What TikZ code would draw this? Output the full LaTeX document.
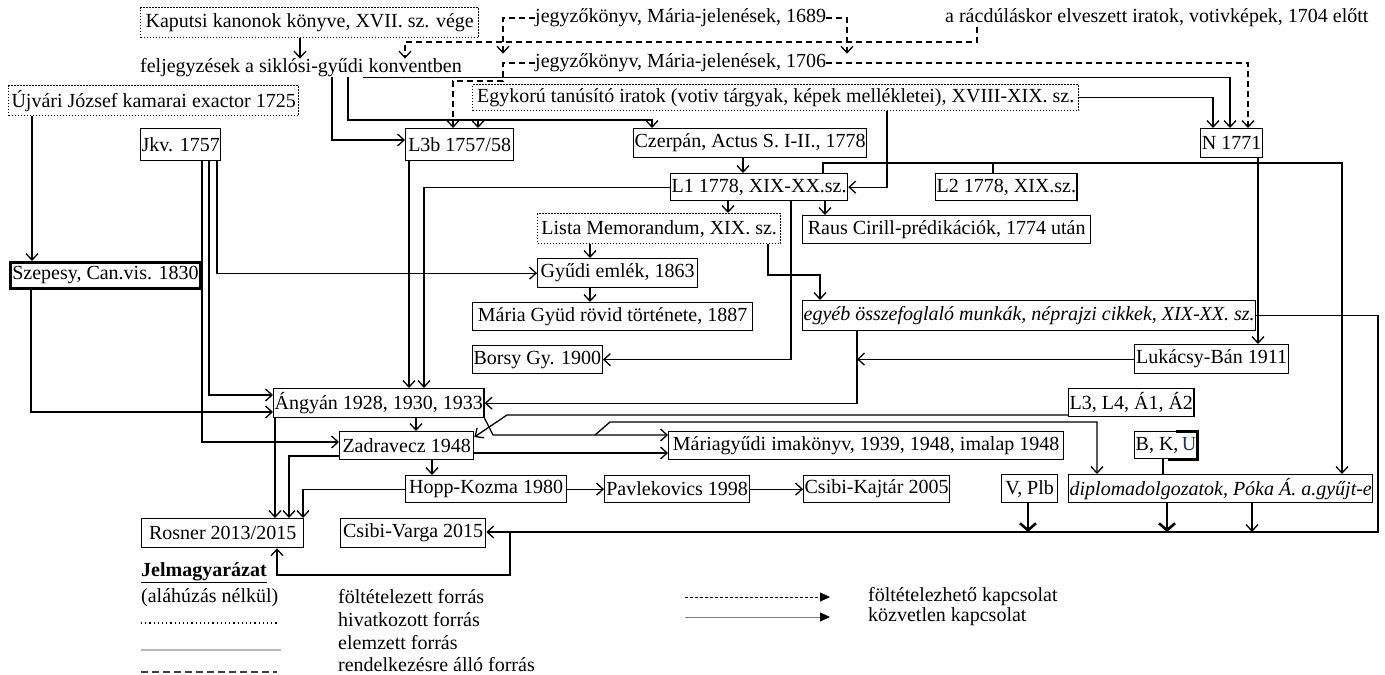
\documentclass[tikz,border=0pt]{standalone}
\usepackage{fontspec}
\setmainfont{Liberation Serif}
\usetikzlibrary{arrows.meta}
\definecolor{ublue}{HTML}{1F3A5F}
\begin{document}
\begin{tikzpicture}[x=1pt,y=-1pt,
  font=\fontsize{20}{24}\selectfont,
  bx/.style={draw, line width=1.3pt, inner xsep=1pt, inner ysep=0pt, anchor=north west},
  dbx/.style={bx, dash pattern=on 1.4pt off 1.6pt, line width=1.4pt},
  txt/.style={inner sep=0pt, anchor=west},
  itx/.style={font=\fontsize{20}{24}\selectfont\itshape},
  ln/.style={line width=1.3pt},
  arr/.style={ln, -{Straight Barb[length=6.5pt,width=12pt]}},
  darr/.style={arr, dash pattern=on 6pt off 4pt},
  tarr/.style={line width=2.6pt, -{Straight Barb[length=7pt,width=16pt]}},
]
\useasboundingbox (0,0) rectangle (1385,675);

% ---------- nodes ----------
\node[dbx, minimum width=338pt, minimum height=30pt] (kap) at (140,7) {Kaputsi kanonok könyve, XVII. sz. vége};
\node[txt] (felj) at (140,68) {feljegyzések a siklósi-gyűdi konventben};
\node[txt] (j1689) at (535,18) {jegyzőkönyv, Mária-jelenések, 1689};
\node[txt] (j1706) at (535,63) {jegyzőkönyv, Mária-jelenések, 1706};
\node[txt] (racd) at (945,18) {a rácdúláskor elveszett iratok, votivképek, 1704 előtt};
\node[dbx, minimum width=290pt, minimum height=30pt] (ujv) at (8,85) {Újvári József kamarai exactor 1725};
\node[dbx, minimum width=606pt, minimum height=26pt] (egyk) at (472,84) {Egykorú tanúsító iratok (votiv tárgyak, képek mellékletei), XVIII-XIX. sz.};
\node[bx, minimum width=79pt, minimum height=32pt] (jkv) at (140,128) {Jkv. 1757};
\node[bx, minimum width=108pt, minimum height=32pt] (l3b) at (405,128) {L3b 1757/58};
\node[bx, minimum width=232pt, minimum height=29pt] (czer) at (633,128) {Czerpán, Actus S. I-II., 1778};
\node[bx, minimum width=62pt, minimum height=29pt] (n1771) at (1200,128) {N 1771};
\node[bx, minimum width=167pt, minimum height=27pt] (l1) at (670,173) {L1 1778, XIX-XX.sz.};
\node[bx, minimum width=135pt, minimum height=27pt] (l2) at (935,173) {L2 1778, XIX.sz.};
\node[dbx, minimum width=243pt, minimum height=30pt] (lista) at (537,213) {Lista Memorandum, XIX. sz.};
\node[bx, minimum width=288pt, minimum height=28pt] (raus) at (802,215) {Raus Cirill-prédikációk, 1774 után};
\node[bx, line width=3pt, minimum width=190pt, minimum height=26pt] (szep) at (9,261) {Szepesy, Can.vis. 1830};
\node[bx, minimum width=160pt, minimum height=29pt] (gyudi) at (537,258) {Gyűdi emlék, 1863};
\node[bx, itx, minimum width=431pt, minimum height=30pt] (egyeb) at (802,300) {egyéb összefoglaló munkák, néprajzi cikkek, XIX-XX. sz.};
\node[bx, minimum width=280pt, minimum height=28pt] (mgy) at (472,302) {Mária Gyüd rövid története, 1887};
\node[bx, minimum width=126pt, minimum height=28pt] (borsy) at (472,345) {Borsy Gy. 1900};
\node[bx, minimum width=154pt, minimum height=29pt] (luk) at (1134,344) {Lukácsy-Bán 1911};
\node[bx, minimum width=207pt, minimum height=29pt] (angy) at (273,388) {Ángyán 1928, 1930, 1933};
\node[bx, minimum width=122pt, minimum height=28pt] (l34) at (1068,388) {L3, L4, Á1, Á2};
\node[bx, minimum width=134pt, minimum height=28pt] (zadr) at (339,431) {Zadravecz 1948};
\node[bx, minimum width=395pt, minimum height=28pt] (mimak) at (668,431) {Máriagyűdi imakönyv, 1939, 1948, imalap 1948};
\node[bx, minimum width=60pt, minimum height=27pt] (bku) at (1134,431) {B, K,\,\textcolor{ublue}{U}};
\node[bx, minimum width=161pt, minimum height=27pt] (hopp) at (405,475) {Hopp-Kozma 1980};
\node[bx, minimum width=145pt, minimum height=27pt] (pavl) at (604,475) {Pavlekovics 1998};
\node[bx, minimum width=145pt, minimum height=27pt] (csk) at (803,475) {Csibi-Kajtár 2005};
\node[bx, minimum width=56pt, minimum height=28pt] (vplb) at (1001,474) {V, Plb};
\node[bx, itx, minimum width=284pt, minimum height=28pt] (dipl) at (1068,474) {diplomadolgozatok, Póka Á. a.gyűjt-e};
\node[bx, minimum width=162pt, minimum height=29pt] (rosner) at (141,518) {Rosner 2013/2015};
\node[bx, minimum width=145pt, minimum height=29pt] (csv) at (340,518) {Csibi-Varga 2015};

% B,K,U partial thick border
\draw[line width=3pt] ([xshift=-22pt]bku.north east) -- (bku.north east) -- (bku.south east) -- ([xshift=-30pt]bku.south east);

% ---------- legend ----------
\node[txt] (leg) at (141,573) {\underline{\textbf{Jelmagyarázat}}};
\node[txt] (leg2) at (141,598) {(aláhúzás nélkül)};
\node[txt] (lg1) at (338,597) {föltételezett forrás};
\node[txt] (lg2) at (338,620) {hivatkozott forrás};
\node[txt] (lg3) at (338,643) {elemzett forrás};
\node[txt] (lg4) at (338,665) {rendelkezésre álló forrás};
\node[txt] (lk1) at (868,597) {föltételezhető kapcsolat};
\node[txt] (lk2) at (868,617) {közvetlen kapcsolat};
\draw[line width=1.2pt, dash pattern=on 1.2pt off 3pt] (141,623) -- (277,623);
\draw[line width=1.2pt, gray!55] (141,650) -- (281,650);
\draw[line width=1.3pt, dash pattern=on 7pt off 4pt, black!75] (141,672) -- (277,672);
\draw[line width=0.8pt, dash pattern=on 3pt off 2pt, -{Triangle[length=10pt,width=9pt]}] (685,597) -- (830,597);
\draw[line width=1pt, gray, -{Triangle[length=10pt,width=9pt,color=black]}] (685,617) -- (830,617);

% ---------- dashed connectors ----------
\draw[darr] (977,0 |- racd.south) -- (977,42) -- (405,42) -- (405,0 |- felj.north);
\draw[darr] (j1689.west) -- (503,0 |- j1689.west) -- (503,0 |- j1706.north);
\draw[darr] (j1689.east) -- (847,0 |- j1689.east) -- (847,0 |- j1706.north);
\draw[darr] (j1706.east) -- (1248,0 |- j1706.east) -- (1248,0 |- n1771.north);
\draw[darr] (j1706.west) -- (503,0 |- j1706.west) -- (503,81) -- (453,81) -- (453,0 |- l3b.north);

% ---------- solid connectors ----------
\draw[arr] (300,0 |- kap.south) -- (300,0 |- felj.north);
\draw[arr] (332,0 |- felj.south) -- (332,140) -- (0,140 -| l3b.west);
\draw[arr] (348,0 |- felj.south) -- (348,120) -- (652,120) -- (652,0 |- czer.north);
\coordinate (b1) at (478,120);
\draw[arr] (b1) -- (478,0 |- l3b.north);
\draw[arr] (363,0 |- felj.south) -| (1230,0 |- n1771.north);
\draw[arr] (egyk.east) -| (1213,0 |- n1771.north);
\draw[arr] (887,0 |- egyk.south) |- (l1.east);
\draw[arr] (743,0 |- czer.south) -- (743,0 |- l1.north);
\draw[arr] (728,0 |- l1.south) -- (728,0 |- lista.north);
\draw[arr] (825,0 |- l1.south) -- (825,0 |- raus.north);
\draw[arr] (823,0 |- l1.north) -- (823,163) -- (1342,163) -- (1342,0 |- dipl.north);
\draw[ln] (993,0 |- l2.north) -- (993,163);
\draw[arr] (1258,0 |- n1771.south) -- (1258,0 |- luk.north);
\draw[arr] (791,0 |- l1.south) |- (borsy.east);
\draw[arr] (l1.west) -| (424,0 |- angy.north);
\draw[arr] (409,0 |- l3b.south) -- (409,0 |- angy.north);
\draw[arr] (768,0 |- lista.south) -- (768,275) -| (820,0 |- egyeb.north);
\draw[arr] (590,0 |- lista.south) -- (590,0 |- gyudi.north);
\draw[arr] (590,0 |- gyudi.south) -- (590,0 |- mgy.north);
\draw[arr] (217,0 |- jkv.south) |- (gyudi.west);
\draw[arr] (209,0 |- jkv.south) |- (0,395 -| angy.west);
\draw[arr] (202,0 |- jkv.south) |- (0,442 -| zadr.west);
\draw[arr] (32,0 |- ujv.south) -- (32,0 |- szep.north);
\draw[arr] (31,0 |- szep.south) |- (0,412 -| angy.west);
\draw[arr] (857,0 |- egyeb.south) |- (angy.east);
\draw[arr] (luk.west) -- (857,0 |- luk.west);
\draw[arr] (416,0 |- angy.south) -- (416,0 |- zadr.north);
\draw[arr] (angy.south east) -- (493,435) -- (0,435 -| mimak.west);
\coordinate (b2) at (595,435);
\draw[arr] (b2) -- (610,422) -| (1097,0 |- dipl.north);
\draw[arr] (0,415 -| l34.west) -- (507,415) -- ([yshift=-6pt]zadr.north east);
\draw[arr] (0,453 -| zadr.east) -- (0,453 -| mimak.west);
\draw[arr] (432,0 |- zadr.south) -- (432,0 |- hopp.north);
\draw[arr] (hopp.east) -- (pavl.west);
\draw[arr] (pavl.east) -- (csk.west);
\draw[arr] (275,0 |- angy.south) -- (275,0 |- rosner.north);
\draw[arr] (0,456 -| zadr.west) -| (289,0 |- rosner.north);
\draw[arr] (hopp.west) -| (303,0 |- rosner.north);
\draw[arr] (egyeb.east) -| (1378,532) -- (0,532 -| csv.east);
\coordinate (b3) at (510,532);
\draw[arr] (b3) -- (510,575) -| (277,0 |- rosner.south);
\draw[tarr] (1028,0 |- vplb.south) -- (1028,532);
\draw[line width=2.6pt] (1163,0 |- bku.south) -- (1163,0 |- dipl.north);
\draw[tarr] (1167,0 |- dipl.south) -- (1167,532);
\draw[arr] (1252,0 |- dipl.south) -- (1252,532);
\end{tikzpicture}
\end{document}
